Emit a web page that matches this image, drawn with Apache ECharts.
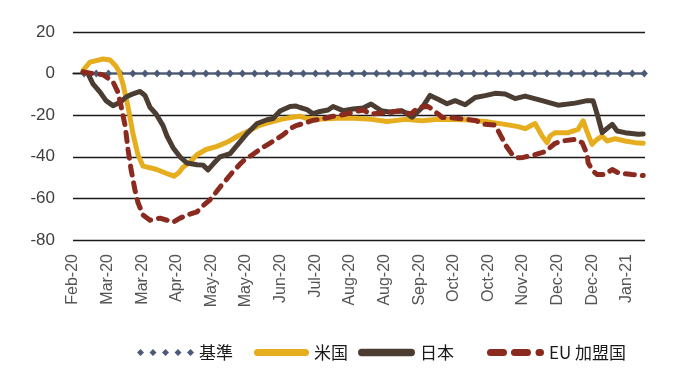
<!DOCTYPE html>
<html>
<head>
<meta charset="utf-8">
<script src="https://cdn.jsdelivr.net/npm/echarts@6/dist/echarts.min.js"></script>
<style>
html,body{margin:0;padding:0;background:#fff;}
#chart{width:680px;height:383px;}
</style>
</head>
<body>
<div id="chart"></div>
<script>
// x values are days counted from the first tick label (mid-Feb 2020); tick labels every 21 days
const tickLabels = ['Feb-20','Mar-20','Mar-20','Apr-20','May-20','May-20','Jun-20','Jul-20','Aug-20','Aug-20','Sep-20','Oct-20','Oct-20','Nov-20','Dec-20','Dec-20','Jan-21'];
const seriesNames = ['基準','米国','日本','EU 加盟国'];

const baseDays = [6.7,14.1,21.5,28.9,36.3,43.7,51.0,58.4,65.8,73.2,80.6,88.0,95.4,102.8,110.2,117.6,124.9,132.3,139.7,147.1,154.5,161.9,169.3,176.7,184.1,191.5,198.8,206.2,213.6,221.0,228.4,235.8,243.2,250.6,258.0,265.4,272.7,280.1,287.5,294.9,302.3,309.7,317.1,324.5,331.9,339.3,346.6];
const baseValues = [0,0,0,0,0,0,0,0,0,0,0,0,0,0,0,0,0,0,0,0,0,0,0,0,0,0,0,0,0,0,0,0,0,0,0,0,0,0,0,0,0,0,0,0,0,0,0];

const usData = [[6.1,1.6],[10.3,5.5],[18.2,7],[22.5,6.5],[26.1,3.5],[27.9,1],[30.3,-5],[33.4,-16],[36.4,-29],[39.4,-39],[42.5,-44.5],[50.4,-46],[58.3,-48.5],[61.3,-49.3],[64.3,-47.5],[66.7,-45],[70.4,-43],[75.2,-39],[80.7,-36.5],[87.4,-35],[94.7,-32.5],[100.1,-30],[106.8,-27.5],[112.9,-25],[119,-23.5],[126.2,-22],[132.8,-21],[137.7,-20.5],[141.4,-21.5],[148.5,-22],[160,-21.5],[171,-21.5],[181,-22],[190.5,-23],[201.5,-22],[211.8,-22.7],[221.5,-22],[237.9,-22.2],[251.8,-23.2],[262.1,-24.4],[270,-25.5],[274.3,-26.5],[280.3,-24],[284.6,-30],[287.6,-33.2],[289.4,-30],[292.5,-28.4],[300.4,-28.4],[306.4,-26.8],[309.5,-22.7],[311.9,-28],[314.9,-34],[318,-31.6],[321,-30],[324,-32.4],[328.9,-31.3],[334.9,-32.4],[341,-33.2],[345.9,-33.5]];

const jpData = [[6.1,0.8],[9.1,0],[12.1,-4.9],[16.4,-8.9],[20,-13],[24.3,-15.4],[28.5,-13.8],[32.2,-11.3],[36.4,-9.7],[40.7,-8.6],[43.7,-10.5],[46.7,-16.2],[50.4,-19.4],[54.6,-25],[57,-30],[60.7,-35.6],[64.9,-40],[69.2,-43],[75.2,-43.8],[78.9,-44],[81.9,-46.3],[85,-43.5],[89.2,-40],[95.3,-38.5],[99.5,-34.5],[105.6,-28.8],[111.7,-24],[117.7,-22.2],[121.4,-21.6],[125.6,-18],[131.7,-15.8],[135.3,-15.6],[137.7,-16.3],[142,-17.3],[145.6,-19.3],[149.9,-18.2],[154.7,-17.5],[157.8,-15.8],[159,-16.5],[163.8,-17.8],[169.9,-17],[176,-16.5],[180.8,-14.6],[186.9,-17.8],[193,-18.6],[199,-17.8],[201.5,-18.7],[205.7,-21],[211.8,-16.3],[216.6,-10.5],[221.5,-12.3],[226.9,-14.5],[231.8,-13],[237.9,-15],[244,-11.5],[250,-10.6],[256.1,-9.5],[262.1,-9.8],[268.2,-12],[274.3,-10.8],[284.6,-13],[294.3,-15.2],[304.6,-14.2],[311.9,-13],[315.5,-13],[318,-19.5],[321,-28.4],[324.6,-26],[327.1,-24.4],[330.1,-27.6],[334.9,-28.4],[342.8,-29.2],[345.9,-29]];

const euData = [[6.1,0.8],[12.1,0],[18.2,-0.5],[24.3,-4],[27.3,-9],[29.1,-15.4],[31.6,-25],[33.4,-36.5],[35.2,-46],[37.6,-56],[39.4,-62],[42.5,-68],[46.7,-70.5],[52.8,-69.5],[57,-70.5],[60.7,-71.5],[64.9,-69.5],[69.2,-68],[75.2,-66.5],[78.9,-63.5],[83.1,-60.7],[89.5,-54.3],[95.6,-48.5],[101.9,-43],[105.6,-40.5],[108,-39.5],[114.1,-36],[118.3,-34],[121.4,-32.5],[127.4,-29.5],[131.7,-26.5],[135.3,-25],[139.6,-24],[145.6,-22.5],[151.7,-21.7],[157.8,-20.5],[163.8,-19.8],[169.9,-18.5],[176,-17.5],[180.8,-19.5],[189.3,-18.8],[197.2,-18],[201.5,-18.7],[205.1,-19.4],[209.3,-16.3],[215.4,-15.8],[221.5,-19.4],[223.9,-21.1],[227.5,-21],[237.9,-21.9],[244,-22.5],[250,-24.4],[256.1,-24.8],[260.3,-31],[262.1,-34],[266.4,-38.9],[270,-40.5],[273.1,-40.3],[280.3,-39],[286.4,-37.5],[292.5,-33.5],[296.7,-32.4],[304.6,-31.6],[308.9,-33.2],[311.9,-38.9],[312.5,-42.9],[315.5,-47],[318,-48.5],[322.8,-48.5],[327.1,-46.1],[330.7,-47.7],[339.2,-48.5],[345.9,-49]];

const colors = {base:'#4A5A79', us:'#E6AE1F', jp:'#4B3D32', eu:'#8B2A1E'};

const diamondsIcon = 'path://M0 3.5L3.5 0L7 3.5L3.5 7Z M12.5 3.5L16 0L19.5 3.5L16 7Z M25 3.5L28.5 0L32 3.5L28.5 7Z M37.5 3.5L41 0L44.5 3.5L41 7Z M50 3.5L53.5 0L57 3.5L53.5 7Z';
const barIcon = 'path://M3.5 0H51.5A3.5 3.5 0 0 1 51.5 7H3.5A3.5 3.5 0 0 1 3.5 0Z';
const dashIcon = 'path://M3.5 0H16.5A3.5 3.5 0 0 1 16.5 7H3.5A3.5 3.5 0 0 1 3.5 0Z M27.5 0H40.5A3.5 3.5 0 0 1 40.5 7H27.5A3.5 3.5 0 0 1 27.5 0Z M52 0H53.5A3.5 3.5 0 0 1 53.5 7H52A3.5 3.5 0 0 1 52 0Z';

const legendText = {fontSize:17, color:'#1a1a1a', fontFamily:'"Noto Sans CJK JP", "Noto Sans", sans-serif'};
function mkLegend(name, left, icon, w){
  return {data:[{name:name, icon:icon}], left:left, top:344, itemWidth:w, itemHeight:12,
          textStyle:legendText, selectedMode:false, padding:0};
}

const chart = echarts.init(document.getElementById('chart'), null, {renderer:'canvas'});
chart.setOption({
  animation:false,
  backgroundColor:'#fff',
  grid:{left:73, right:35, top:32, bottom:143, containLabel:false},
  xAxis:{
    type:'value', min:0, max:347, interval:21,
    axisLine:{show:true, lineStyle:{color:'#1a1a1a', width:1.3}},
    axisTick:{show:false},
    splitLine:{show:false},
    axisLabel:{
      rotate:90, margin:14, fontSize:16, color:'#555',
      fontFamily:'"Liberation Sans", Arial, sans-serif',
      formatter:function(v){const i=Math.round(v/21); return (Math.abs(v-i*21)<0.01 && i<tickLabels.length)?tickLabels[i]:'';}
    }
  },
  yAxis:{
    type:'value', min:-80, max:20, interval:20,
    axisLine:{show:false}, axisTick:{show:false},
    splitLine:{show:true, lineStyle:{color:'#1a1a1a', width:1.3}},
    axisLabel:{margin:18, fontSize:17, color:'#404040', fontFamily:'"Liberation Sans", Arial, sans-serif'}
  },
  legend:[
    mkLegend(seriesNames[0], 137, diamondsIcon, 57),
    mkLegend(seriesNames[1], 254, barIcon, 55),
    mkLegend(seriesNames[2], 358, barIcon, 57),
    mkLegend(seriesNames[3], 487, dashIcon, 57)
  ],
  series:[
    {name:seriesNames[0], type:'line', data:baseDays.map((d,i)=>[d, baseValues[i]]),
     symbol:'diamond', symbolSize:[7,8], showSymbol:true, color:colors.base,
     itemStyle:{color:colors.base}, lineStyle:{color:colors.base, width:1.5}, z:1},
    {name:seriesNames[1], type:'line', data:usData, showSymbol:false, symbol:'none', color:colors.us,
     lineStyle:{color:colors.us, width:5, cap:'round', join:'round'}, z:2},
    {name:seriesNames[2], type:'line', data:jpData, showSymbol:false, symbol:'none', color:colors.jp,
     lineStyle:{color:colors.jp, width:5, cap:'round', join:'round'}, z:3},
    {name:seriesNames[3], type:'line', data:euData, showSymbol:false, symbol:'none', color:colors.eu,
     lineStyle:{color:colors.eu, width:5, type:[9,8], cap:'round', join:'round'}, z:4}
  ]
});
</script>
</body>
</html>
